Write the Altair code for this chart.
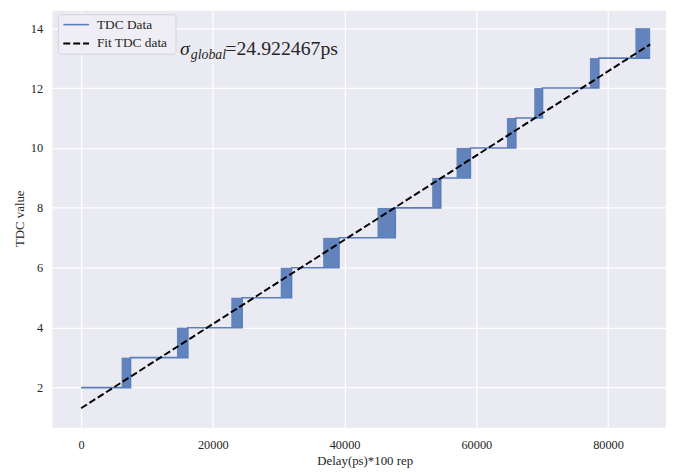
import altair as alt
import pandas as pd

# ---- data ----
# transition blocks (data flickering between level and level+1)
block_start = [6150, 14550, 22800, 30300, 36750, 45000, 53300, 57000, 64650, 68800, 77250, 84150]
block_end   = [7500, 16200, 24450, 31950, 39150, 47700, 54600, 59100, 66000, 70050, 78600, 86400]
block_low   = [2, 3, 4, 5, 6, 7, 8, 9, 10, 11, 12, 13]

# step line of TDC data (step-after)
step_x = [0, 7500, 16200, 24450, 31950, 39150, 47700, 54600, 59100, 66000, 70050, 78600, 86400]
step_y = [2, 3, 4, 5, 6, 7, 8, 9, 10, 11, 12, 13, 13]

# fit line endpoints
fit_x = [0, 86400]
fit_y = [1.31, 13.46]

series_names = ["TDC Data", "Fit TDC data"]
x_ticks = [0, 20000, 40000, 60000, 80000]
y_ticks = [2, 4, 6, 8, 10, 12, 14]
ann_sigma = ["σ"]
ann_sub = ["global"]
ann_val = ["=24.922467ps"]

FONT = "Liberation Serif"
BLUE = "#5a7dbb"
BLOCK = "#6283bc"
TXT = "#262626"

blocks = pd.DataFrame({"x": block_start, "x2": block_end,
                       "y": block_low, "y2": [v + 1 for v in block_low]})
step = pd.DataFrame({"x": step_x, "y": step_y})
fit = pd.DataFrame({"x": fit_x, "y": fit_y})

xscale = alt.Scale(domain=[-4350, 88800], nice=False, zero=False)
yscale = alt.Scale(domain=[0.66, 14.58], nice=False, zero=False)

xax = alt.Axis(values=x_ticks, format="d", title="Delay(ps)*100 rep",
               titleX=316, titleY=27)
yax = alt.Axis(values=y_ticks, title="TDC value", titleX=-26, titleY=210)

rects = alt.Chart(blocks).mark_rect(color=BLOCK).encode(
    x=alt.X("x:Q", scale=xscale, axis=xax), x2="x2:Q",
    y=alt.Y("y:Q", scale=yscale, axis=yax), y2="y2:Q")

stepline = alt.Chart(step).mark_line(interpolate="step-after", strokeWidth=1.6,
                                     color=BLUE).encode(
    x=alt.X("x:Q", scale=xscale), y=alt.Y("y:Q", scale=yscale))

fitline = alt.Chart(fit).mark_line(strokeWidth=2, color="black",
                                   strokeDash=[7, 3]).encode(
    x=alt.X("x:Q", scale=xscale), y=alt.Y("y:Q", scale=yscale))

# manual legend (matplotlib style, upper left)
one = pd.DataFrame({"a": [0]})
leg_box = alt.Chart(one).mark_rect(fill="#EEEEF4", stroke="#D2D2DA", strokeWidth=1,
                                   cornerRadius=3).encode(
    x=alt.value(6), x2=alt.value(125), y=alt.value(4), y2=alt.value(44))
leg_l1 = alt.Chart(one).mark_rule(color=BLUE, strokeWidth=1.6).encode(
    x=alt.value(11), x2=alt.value(37), y=alt.value(14))
leg_l2 = alt.Chart(one).mark_rule(color="black", strokeWidth=2, strokeDash=[7, 3]).encode(
    x=alt.value(11), x2=alt.value(37), y=alt.value(33))
leg_t1 = alt.Chart(pd.DataFrame({"t": [series_names[0]]})).mark_text(
    font=FONT, fontSize=13.5, align="left", baseline="middle", color=TXT).encode(
    text="t:N", x=alt.value(45), y=alt.value(14))
leg_t2 = alt.Chart(pd.DataFrame({"t": [series_names[1]]})).mark_text(
    font=FONT, fontSize=13.5, align="left", baseline="middle", color=TXT).encode(
    text="t:N", x=alt.value(45), y=alt.value(33))

t1 = alt.Chart(pd.DataFrame({"t": ann_sigma})).mark_text(
    font=FONT, fontSize=20, fontStyle="italic", align="left", baseline="alphabetic",
    color=TXT).encode(text="t:N", x=alt.value(129), y=alt.value(45))
t2 = alt.Chart(pd.DataFrame({"t": ann_sub})).mark_text(
    font=FONT, fontSize=14, fontStyle="italic", align="left", baseline="alphabetic",
    color=TXT).encode(text="t:N", x=alt.value(140), y=alt.value(49))
t3 = alt.Chart(pd.DataFrame({"t": ann_val})).mark_text(
    font=FONT, fontSize=20, align="left", baseline="alphabetic",
    color=TXT).encode(text="t:N", x=alt.value(175), y=alt.value(45))

chart = alt.layer(rects, stepline, fitline, leg_box, leg_l1, leg_l2, leg_t1, leg_t2,
                  t1, t2, t3).properties(
    width=621, height=422,
    autosize=alt.AutoSizeParams(type="none"),
    padding={"left": 45, "top": 0, "right": 0, "bottom": 43},
).configure_view(fill="#EAEAF2", stroke=None).configure_axis(
    grid=True, gridColor="white", gridWidth=1.2, domain=False, ticks=False,
    labelFont=FONT, labelFontSize=12.5, labelColor=TXT,
    titleFont=FONT, titleFontSize=13, titleColor=TXT, titleFontWeight="normal",
).configure_axisX(labelPadding=11).configure_axisY(labelPadding=10)

chart.save("out.html", embed_options={"renderer": "svg", "actions": False})
